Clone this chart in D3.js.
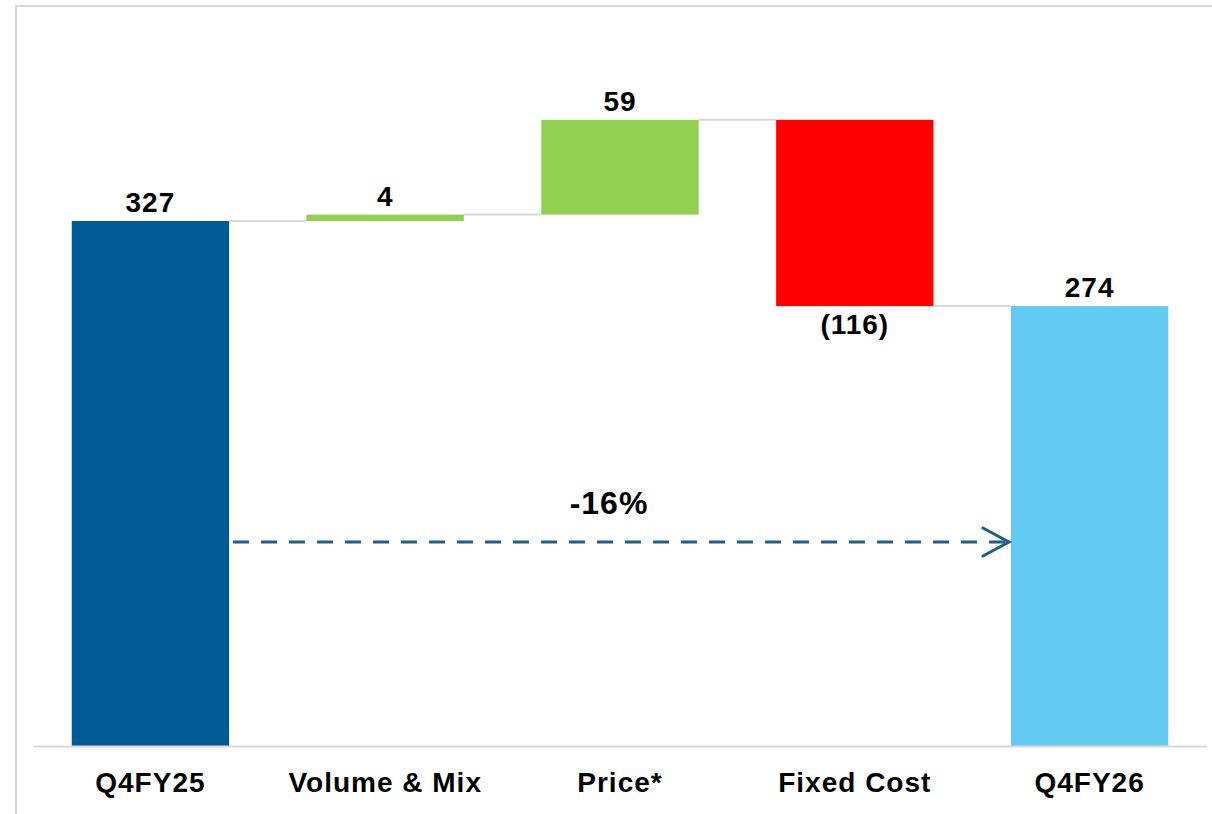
<!DOCTYPE html>
<html>
<head>
<meta charset="utf-8">
<script src="https://cdn.jsdelivr.net/npm/d3@7"></script>
<style>
  html, body { margin: 0; padding: 0; background: #fff; }
  svg { display: block; }
  text { font-family: "Liberation Sans", Arial, sans-serif; font-weight: bold; fill: #000; letter-spacing: 1px; }
</style>
</head>
<body>
<script>
// ---- data ----
const categories = ["Q4FY25", "Volume & Mix", "Price*", "Fixed Cost", "Q4FY26"];
const values = [327, 4, 59, -116, 274];
const barTypes = ["total", "delta", "delta", "delta", "total"];
const valueLabels = ["327", "4", "59", "(116)", "274"];
const changeLabel = "-16%";
const changeFrom = "Q4FY25";
const changeTo = "Q4FY26";

// ---- layout ----
const W = 1212, H = 814;
const FONT = "'Liberation Sans', Arial, sans-serif";
const colors = { startTotal: "#005a96", endTotal: "#63caf2", up: "#92d050", down: "#ff0000" };
const grid = "#d9d9d9";

const svg = d3.select("body").append("svg").attr("width", W).attr("height", H);

// frame (top + left edges visible)
svg.append("path")
  .attr("d", "M16,814 L16,6 L1212,6")
  .attr("fill", "none").attr("stroke", grid).attr("stroke-width", 2);

const x = d3.scaleBand().domain(categories).range([33, 1207])
  .paddingInner(0.33).paddingOuter(0.165);
const y = d3.scaleLinear().domain([0, 450]).range([746, 746 - 450 * 1.6055]);

// compute waterfall
let running = 0;
const bars = categories.map((c, i) => {
  let start, end;
  if (barTypes[i] === "total") { start = 0; end = values[i]; running = values[i]; }
  else { start = running; end = running + values[i]; running = end; }
  let color;
  if (barTypes[i] === "total") color = i === 0 ? colors.startTotal : colors.endTotal;
  else color = values[i] >= 0 ? colors.up : colors.down;
  return { cat: c, start, end, value: values[i], label: valueLabels[i], color };
});

// connectors
const g = svg.append("g");
bars.slice(0, -1).forEach((b, i) => {
  const nb = bars[i + 1];
  const level = b.end;
  g.append("line")
    .attr("x1", x(b.cat) + x.bandwidth()).attr("x2", x(nb.cat))
    .attr("y1", y(level)).attr("y2", y(level))
    .attr("stroke", grid).attr("stroke-width", 2);
});

// bars
g.selectAll("rect.bar").data(bars).join("rect")
  .attr("class", "bar")
  .attr("x", d => x(d.cat))
  .attr("width", x.bandwidth())
  .attr("y", d => y(Math.max(d.start, d.end)))
  .attr("height", d => Math.abs(y(d.start) - y(d.end)))
  .attr("fill", d => d.color);

// value labels
g.selectAll("text.val").data(bars).join("text")
  .attr("class", "val")
  .attr("x", d => x(d.cat) + x.bandwidth() / 2)
  .attr("y", d => d.value >= 0 ? y(Math.max(d.start, d.end)) - 9 : y(Math.min(d.start, d.end)) + 28)
  .attr("text-anchor", "middle")
  .style("font-size", "28px")
  .text(d => d.label);

// axis
const axis = svg.append("g").attr("transform", "translate(0,746)")
  .call(d3.axisBottom(x).tickSize(0).tickSizeOuter(0).tickPadding(26));
axis.select(".domain").attr("stroke", grid).attr("stroke-width", 2);
axis.selectAll(".tick text")
  .style("font-size", "28px")
  .style("font-family", FONT)
  .style("font-weight", "bold")
  .style("letter-spacing", "1px")
  .attr("fill", "#000");

// change arrow
const arrowY = 542;
const ax1 = x(changeFrom) + x.bandwidth() + 4;
const ax2 = x(changeTo) - 2;
const arrowColor = "#1b6088";
svg.append("line")
  .attr("x1", ax1).attr("x2", ax2 - 4)
  .attr("y1", arrowY).attr("y2", arrowY)
  .attr("stroke", arrowColor).attr("stroke-width", 3)
  .attr("stroke-dasharray", "16,12");
svg.append("path")
  .attr("d", `M${ax2 - 26},${arrowY - 14} L${ax2},${arrowY} L${ax2 - 26},${arrowY + 14}`)
  .attr("fill", "none").attr("stroke", arrowColor).attr("stroke-width", 3)
  .attr("stroke-linecap", "round").attr("stroke-linejoin", "miter");
svg.append("text")
  .attr("x", (ax1 + ax2) / 2 - 12)
  .attr("y", 514)
  .attr("text-anchor", "middle")
  .style("font-size", "32px")
  .text(changeLabel);
</script>
</body>
</html>
